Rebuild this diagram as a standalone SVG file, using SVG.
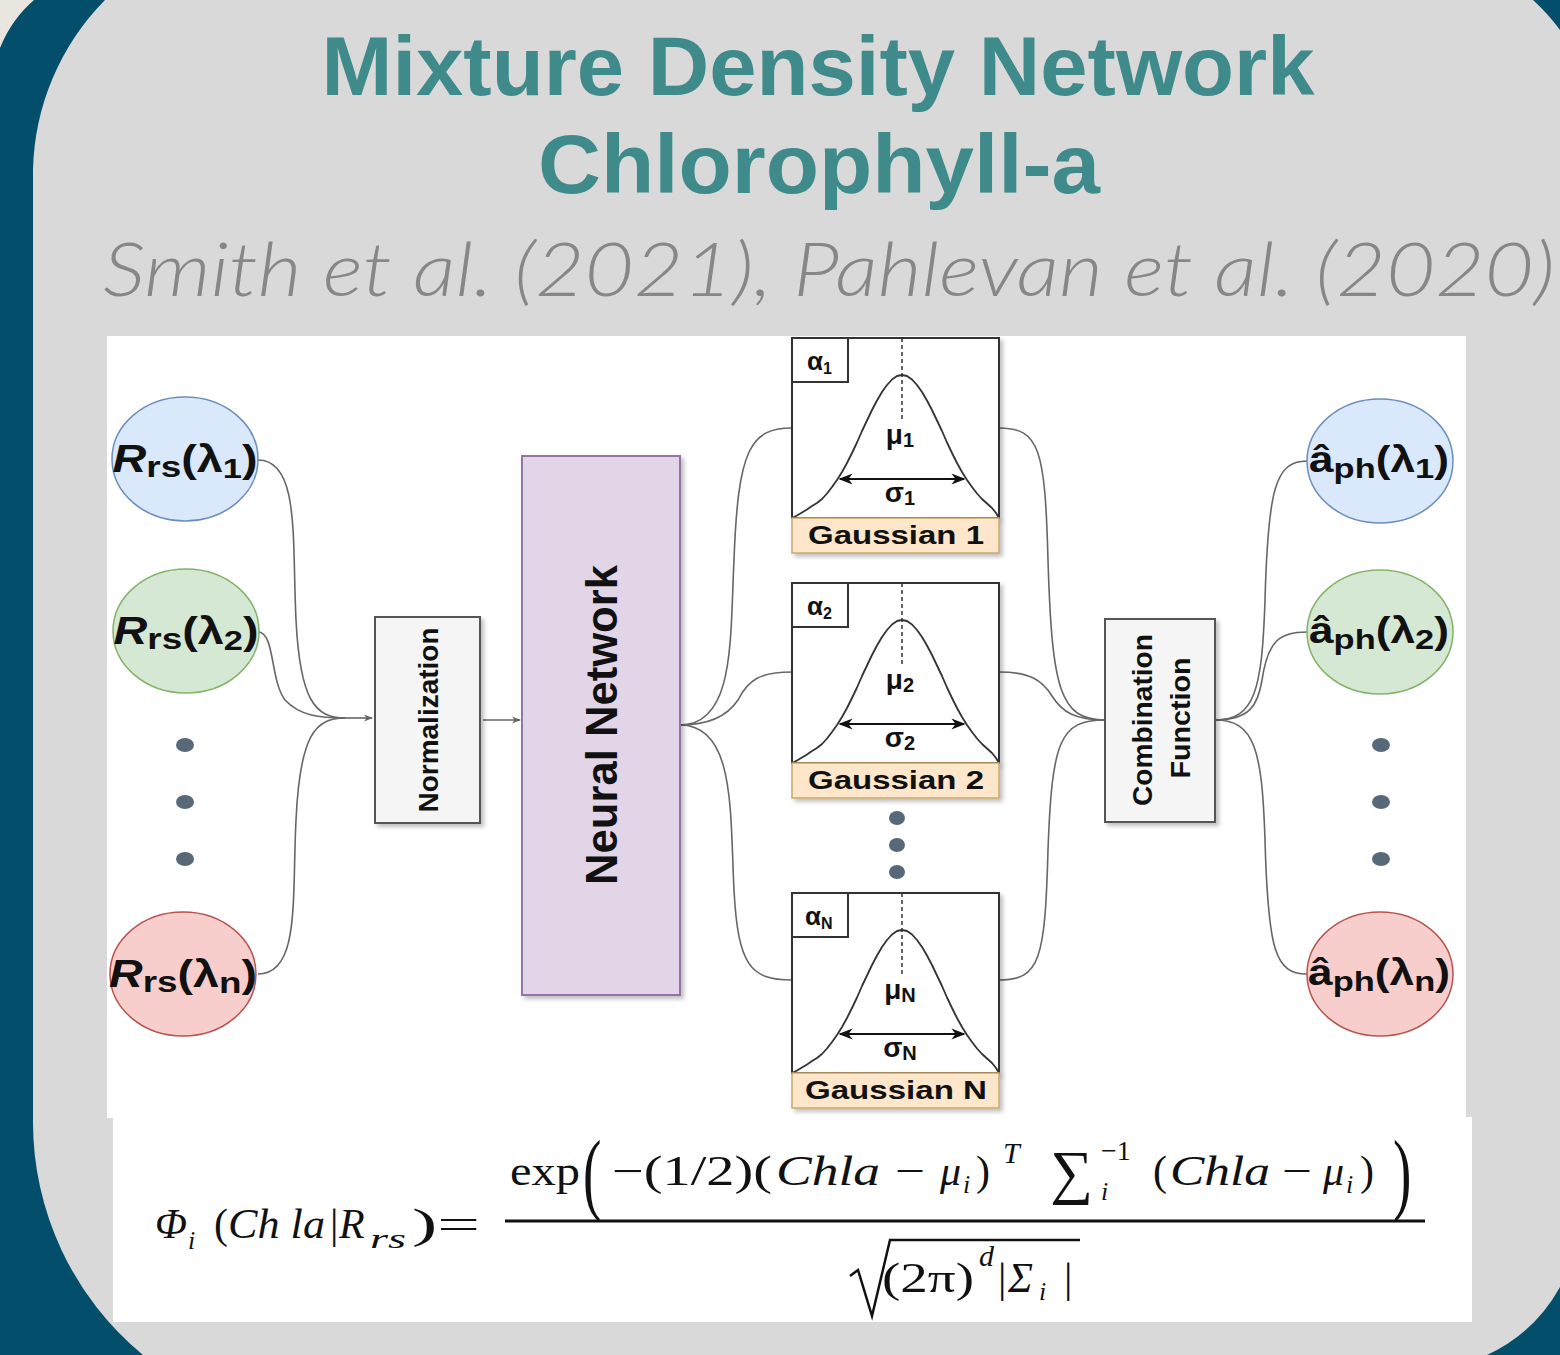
<svg xmlns="http://www.w3.org/2000/svg" width="1560" height="1355" viewBox="0 0 1560 1355">
<style>
.title{font-family:"Liberation Sans",Arial,sans-serif;font-weight:bold;fill:#3f8a8a}
.sub{font-family:Lato,"Liberation Sans",Arial,sans-serif;font-style:italic;font-weight:300;fill:#878787}
.lbl{font-family:"Liberation Sans",Arial,sans-serif;font-weight:bold;fill:#111}
.conn{fill:none;stroke:#666;stroke-width:1.6}
.box{fill:#f5f5f5;stroke:#555;stroke-width:2}
.gbox{fill:#fff;stroke:#333;stroke-width:2}
.glab{fill:#fde6c9;stroke:#c9a86a;stroke-width:1.5}
.bell{fill:none;stroke:#333;stroke-width:1.8;stroke-linejoin:round}
.dot{fill:#576878}
.m{font-family:"Liberation Serif","Times New Roman",serif;fill:#111}
.mi{font-family:"Liberation Serif","Times New Roman",serif;font-style:italic;fill:#111}
</style>
<defs>
<marker id="arr" viewBox="0 0 10 10" refX="9" refY="5" markerWidth="9" markerHeight="9" orient="auto" markerUnits="userSpaceOnUse"><path d="M0,1 L10,5 L0,9 L3,5 Z" fill="#666"/></marker>
<marker id="arrK" viewBox="0 0 10 10" refX="9" refY="5" markerWidth="14" markerHeight="14" orient="auto-start-reverse" markerUnits="userSpaceOnUse"><path d="M0,1 L10,5 L0,9 L3,5 Z" fill="#111"/></marker>
<filter id="sh" x="-10%" y="-10%" width="130%" height="130%"><feDropShadow dx="3" dy="3" stdDeviation="2" flood-color="#000" flood-opacity="0.25"/></filter>
<path id="bellp" class="bell" d="M792,518 L797,515.5 L802,512.5 L807,509.5 L812,506 L817,503 L822,499 L827,493.5 L832,487 L837,480 L842,472 L847,463 L852,453 L857,442.5 L862,431 L867,420.5 L872,410 L877,400.5 L882,392 L887,385 L892,379.5 L897,376 L902,375 L907,376 L912,379.5 L917,385 L922,392 L927,400.5 L932,410 L937,420.5 L942,431 L947,442.5 L952,453 L957,463 L962,472 L967,480 L972,487 L977,493.5 L982,499 L987,503.5 L992,508 L996,513 L999,518"/>
</defs>

<!-- background -->
<rect x="0" y="0" width="1560" height="1355" fill="#034f6b"/>
<path d="M0,0 H34 C20,12 8,28 0,48 Z" fill="#e9e5df"/>
<path d="M105,0 H1533 A200,200 0 0 1 1560,30 V1287 A160,160 0 0 1 1487,1355 H143 A302,302 0 0 1 33,1120 V170 A250,250 0 0 1 105,0 Z" fill="#d9d9d9"/>

<!-- titles -->
<text class="title" x="818" y="95" font-size="84" text-anchor="middle" textLength="993" lengthAdjust="spacingAndGlyphs">Mixture Density Network</text>
<text class="title" x="819" y="193" font-size="84" text-anchor="middle" textLength="562" lengthAdjust="spacingAndGlyphs">Chlorophyll-a</text>
<text class="sub" x="829" y="296" font-size="74" text-anchor="middle" textLength="1452" lengthAdjust="spacingAndGlyphs">Smith et al. (2021), Pahlevan et al. (2020)</text>

<!-- white panels -->
<rect x="107" y="336" width="1359" height="782" fill="#fff"/>
<rect x="113" y="1117" width="1359" height="205" fill="#fff"/>

<!-- connectors -->
<g id="connectors">
<path class="conn" d="M258,460 C300,460 292,540 296,620 C300,700 315,718 345,718"/>
<path class="conn" d="M258,632 C275,632 270,680 285,700 C300,716 320,718 345,718"/>
<path class="conn" d="M258,974 C300,974 292,900 296,820 C300,735 315,718 345,718"/>
<path class="conn" d="M345,718 L372,718" marker-end="url(#arr)"/>
<path class="conn" d="M483,720 L520,720" marker-end="url(#arr)"/>
<path class="conn" d="M680,725 C735,725 730,640 734,560 C738,450 750,428 792,428"/>
<path class="conn" d="M680,725 C715,725 730,712 738,700 C748,680 760,672 792,672"/>
<path class="conn" d="M680,725 C735,725 730,810 734,890 C738,965 750,980 792,980"/>
<path class="conn" d="M999,428 C1040,428 1045,450 1048,560 C1052,690 1060,720 1105,720"/>
<path class="conn" d="M999,672 C1030,672 1042,680 1052,696 C1062,712 1075,720 1105,720"/>
<path class="conn" d="M999,980 C1040,980 1045,960 1048,850 C1052,740 1060,720 1105,720"/>
<path class="conn" d="M1215,720 C1255,720 1262,690 1265,600 C1268,490 1275,461 1307,461"/>
<path class="conn" d="M1215,720 C1250,720 1258,705 1262,680 C1268,640 1280,632 1307,632"/>
<path class="conn" d="M1215,720 C1255,720 1262,750 1265,840 C1268,950 1275,974 1307,974"/>
</g>

<!-- inputs -->
<g id="in1">
<ellipse cx="185" cy="459" rx="73" ry="62" fill="#dae8fc" stroke="#6c8ebf" stroke-width="1.5"/>
<text class="lbl" x="185" y="472" font-size="38" text-anchor="middle" textLength="145" lengthAdjust="spacingAndGlyphs"><tspan font-style="italic">R</tspan><tspan font-size="30" dy="5">rs</tspan><tspan dy="-5">(λ</tspan><tspan font-size="28" dy="6">1</tspan><tspan dy="-6">)</tspan></text>
</g>
<g id="in2">
<ellipse cx="186" cy="631" rx="73" ry="62" fill="#d5e8d4" stroke="#82b366" stroke-width="1.5"/>
<text class="lbl" x="186" y="644" font-size="38" text-anchor="middle" textLength="145" lengthAdjust="spacingAndGlyphs"><tspan font-style="italic">R</tspan><tspan font-size="30" dy="5">rs</tspan><tspan dy="-5">(λ</tspan><tspan font-size="28" dy="6">2</tspan><tspan dy="-6">)</tspan></text>
</g>
<g id="indots">
<ellipse class="dot" cx="185" cy="745" rx="9" ry="7"/>
<ellipse class="dot" cx="185" cy="802" rx="9" ry="7"/>
<ellipse class="dot" cx="185" cy="859" rx="9" ry="7"/>
</g>
<g id="inN">
<ellipse cx="183" cy="974" rx="73" ry="62" fill="#f8cecc" stroke="#b85450" stroke-width="1.5"/>
<text class="lbl" x="183" y="987" font-size="38" text-anchor="middle" textLength="148" lengthAdjust="spacingAndGlyphs"><tspan font-style="italic">R</tspan><tspan font-size="30" dy="5">rs</tspan><tspan dy="-5">(λ</tspan><tspan font-size="30" dy="6">n</tspan><tspan dy="-6">)</tspan></text>
</g>

<!-- normalization -->
<g id="norm">
<rect class="box" x="375" y="617" width="105" height="206" filter="url(#sh)"/>
<text class="lbl" transform="translate(438,720) rotate(-90)" font-size="27" text-anchor="middle" textLength="185" lengthAdjust="spacingAndGlyphs">Normalization</text>
</g>

<!-- neural network -->
<g id="nn">
<rect x="522" y="456" width="158" height="539" fill="#e1d5e7" stroke="#9673a6" stroke-width="2" filter="url(#sh)"/>
<text class="lbl" transform="translate(617,725) rotate(-90)" font-size="44" text-anchor="middle" textLength="320" lengthAdjust="spacingAndGlyphs">Neural Network</text>
</g>

<!-- gaussians -->
<g id="g1">
<rect class="gbox" x="792" y="338" width="207" height="180" filter="url(#sh)"/>
<rect class="gbox" x="792" y="338" width="56" height="44" stroke-width="1.5"/>
<text class="lbl" x="807" y="370" font-size="26">α<tspan font-size="16" dy="4">1</tspan></text>
<line x1="902" y1="338" x2="902" y2="420" stroke="#333" stroke-width="1.5" stroke-dasharray="4,3"/>
<use href="#bellp"/>
<text class="lbl" x="900" y="444" font-size="28" text-anchor="middle">μ<tspan font-size="20" dy="3">1</tspan></text>
<line x1="840" y1="479" x2="964" y2="479" stroke="#111" stroke-width="2" marker-start="url(#arrK)" marker-end="url(#arrK)"/>
<text class="lbl" x="900" y="502" font-size="28" text-anchor="middle">σ<tspan font-size="20" dy="3">1</tspan></text>
<rect class="glab" x="792" y="518" width="207" height="35" filter="url(#sh)"/>
<text class="lbl" x="896" y="544" font-size="26" text-anchor="middle" textLength="176" lengthAdjust="spacingAndGlyphs">Gaussian 1</text>
</g>
<g id="g2" transform="translate(0,245)">
<rect class="gbox" x="792" y="338" width="207" height="180" filter="url(#sh)"/>
<rect class="gbox" x="792" y="338" width="56" height="44" stroke-width="1.5"/>
<text class="lbl" x="807" y="370" font-size="26">α<tspan font-size="16" dy="4">2</tspan></text>
<line x1="902" y1="338" x2="902" y2="420" stroke="#333" stroke-width="1.5" stroke-dasharray="4,3"/>
<use href="#bellp"/>
<text class="lbl" x="900" y="444" font-size="28" text-anchor="middle">μ<tspan font-size="20" dy="3">2</tspan></text>
<line x1="840" y1="479" x2="964" y2="479" stroke="#111" stroke-width="2" marker-start="url(#arrK)" marker-end="url(#arrK)"/>
<text class="lbl" x="900" y="502" font-size="28" text-anchor="middle">σ<tspan font-size="20" dy="3">2</tspan></text>
<rect class="glab" x="792" y="518" width="207" height="35" filter="url(#sh)"/>
<text class="lbl" x="896" y="544" font-size="26" text-anchor="middle" textLength="176" lengthAdjust="spacingAndGlyphs">Gaussian 2</text>
</g>
<g id="gdots">
<ellipse class="dot" cx="897" cy="818" rx="8" ry="7"/>
<ellipse class="dot" cx="897" cy="845" rx="8" ry="7"/>
<ellipse class="dot" cx="897" cy="872" rx="8" ry="7"/>
</g>
<g id="gN" transform="translate(0,555)">
<rect class="gbox" x="792" y="338" width="207" height="180" filter="url(#sh)"/>
<rect class="gbox" x="792" y="338" width="56" height="44" stroke-width="1.5"/>
<text class="lbl" x="805" y="370" font-size="26">α<tspan font-size="16" dy="4">N</tspan></text>
<line x1="902" y1="338" x2="902" y2="420" stroke="#333" stroke-width="1.5" stroke-dasharray="4,3"/>
<use href="#bellp"/>
<text class="lbl" x="900" y="444" font-size="28" text-anchor="middle">μ<tspan font-size="20" dy="3">N</tspan></text>
<line x1="840" y1="479" x2="964" y2="479" stroke="#111" stroke-width="2" marker-start="url(#arrK)" marker-end="url(#arrK)"/>
<text class="lbl" x="900" y="502" font-size="28" text-anchor="middle">σ<tspan font-size="20" dy="3">N</tspan></text>
<rect class="glab" x="792" y="518" width="207" height="35" filter="url(#sh)"/>
<text class="lbl" x="896" y="544" font-size="26" text-anchor="middle" textLength="182" lengthAdjust="spacingAndGlyphs">Gaussian N</text>
</g>

<!-- combination -->
<g id="comb">
<rect class="box" x="1105" y="619" width="110" height="203" filter="url(#sh)"/>
<text class="lbl" transform="translate(1152,720) rotate(-90)" font-size="27" text-anchor="middle" textLength="172" lengthAdjust="spacingAndGlyphs">Combination</text>
<text class="lbl" transform="translate(1190,718) rotate(-90)" font-size="27" text-anchor="middle" textLength="121" lengthAdjust="spacingAndGlyphs">Function</text>
</g>

<!-- outputs -->
<g id="out1">
<ellipse cx="1380" cy="461" rx="73" ry="62" fill="#dae8fc" stroke="#6c8ebf" stroke-width="1.5"/>
<text class="lbl" x="1379" y="472" font-size="36" text-anchor="middle" textLength="140" lengthAdjust="spacingAndGlyphs">â<tspan font-size="28" dy="6">ph</tspan><tspan dy="-6">(λ</tspan><tspan font-size="28" dy="6">1</tspan><tspan dy="-6">)</tspan></text>
</g>
<g id="out2">
<ellipse cx="1380" cy="632" rx="73" ry="62" fill="#d5e8d4" stroke="#82b366" stroke-width="1.5"/>
<text class="lbl" x="1379" y="643" font-size="36" text-anchor="middle" textLength="140" lengthAdjust="spacingAndGlyphs">â<tspan font-size="28" dy="6">ph</tspan><tspan dy="-6">(λ</tspan><tspan font-size="28" dy="6">2</tspan><tspan dy="-6">)</tspan></text>
</g>
<g id="outdots">
<ellipse class="dot" cx="1381" cy="745" rx="9" ry="7"/>
<ellipse class="dot" cx="1381" cy="802" rx="9" ry="7"/>
<ellipse class="dot" cx="1381" cy="859" rx="9" ry="7"/>
</g>
<g id="outN">
<ellipse cx="1380" cy="974" rx="73" ry="62" fill="#f8cecc" stroke="#b85450" stroke-width="1.5"/>
<text class="lbl" x="1379" y="985" font-size="36" text-anchor="middle" textLength="142" lengthAdjust="spacingAndGlyphs">â<tspan font-size="28" dy="6">ph</tspan><tspan dy="-6">(λ</tspan><tspan font-size="28" dy="6">n</tspan><tspan dy="-6">)</tspan></text>
</g>

<!-- formula -->
<g id="formula">
<text class="mi" x="155" y="1238" font-size="42">Φ</text>
<text class="mi" x="188" y="1249" font-size="26">i</text>
<text class="m" x="214" y="1238" font-size="42">(</text>
<text class="mi" x="228" y="1238" font-size="42" textLength="97" lengthAdjust="spacingAndGlyphs">Ch la</text>
<text class="m" x="330" y="1238" font-size="42">|</text>
<text class="mi" x="339" y="1238" font-size="42">R</text>
<text class="mi" x="370" y="1248" font-size="28" textLength="36" lengthAdjust="spacingAndGlyphs">rs</text>
<text class="m" x="412" y="1238" font-size="42" textLength="68" lengthAdjust="spacingAndGlyphs">)=</text>
<line x1="505" y1="1221" x2="1425" y2="1221" stroke="#111" stroke-width="3"/>
<text class="m" x="510" y="1185" font-size="42" textLength="70" lengthAdjust="spacingAndGlyphs">exp</text>
<text class="m" x="583" y="1203" font-size="92" transform="translate(583,1203) scale(0.6,1) translate(-583,-1203)">(</text>
<text class="m" x="612" y="1185" font-size="42" textLength="160" lengthAdjust="spacingAndGlyphs">−(1/2)(</text>
<text class="mi" x="776" y="1185" font-size="42" textLength="104" lengthAdjust="spacingAndGlyphs">Chla</text>
<text class="m" x="895" y="1185" font-size="42" textLength="30" lengthAdjust="spacingAndGlyphs">−</text>
<text class="mi" x="940" y="1185" font-size="42">μ</text>
<text class="mi" x="963" y="1193" font-size="26">i</text>
<text class="m" x="976" y="1185" font-size="42">)</text>
<text class="mi" x="1003" y="1163" font-size="30">T</text>
<text class="m" x="1050" y="1192" font-size="60">∑</text>
<text class="m" x="1101" y="1160" font-size="28">−1</text>
<text class="mi" x="1101" y="1200" font-size="26">i</text>
<text class="m" x="1153" y="1185" font-size="42">(</text>
<text class="mi" x="1170" y="1185" font-size="42" textLength="100" lengthAdjust="spacingAndGlyphs">Chla</text>
<text class="m" x="1282" y="1185" font-size="42" textLength="30" lengthAdjust="spacingAndGlyphs">−</text>
<text class="mi" x="1323" y="1185" font-size="42">μ</text>
<text class="mi" x="1346" y="1193" font-size="26">i</text>
<text class="m" x="1360" y="1185" font-size="42">)</text>
<text class="m" x="1393" y="1203" font-size="92" transform="translate(1393,1203) scale(0.6,1) translate(-1393,-1203)">)</text>
<path d="M850,1276 L858,1270 L872,1316 L890,1240 L1080,1240" fill="none" stroke="#111" stroke-width="2.5" stroke-linejoin="miter"/>
<text class="m" x="882" y="1292" font-size="42" textLength="92" lengthAdjust="spacingAndGlyphs">(2π)</text>
<text class="mi" x="979" y="1266" font-size="30">d</text>
<text class="m" x="998" y="1292" font-size="42">|</text>
<text class="mi" x="1008" y="1292" font-size="42">Σ</text>
<text class="mi" x="1039" y="1300" font-size="26">i</text>
<text class="m" x="1064" y="1292" font-size="42">|</text>
</g>
</svg>
